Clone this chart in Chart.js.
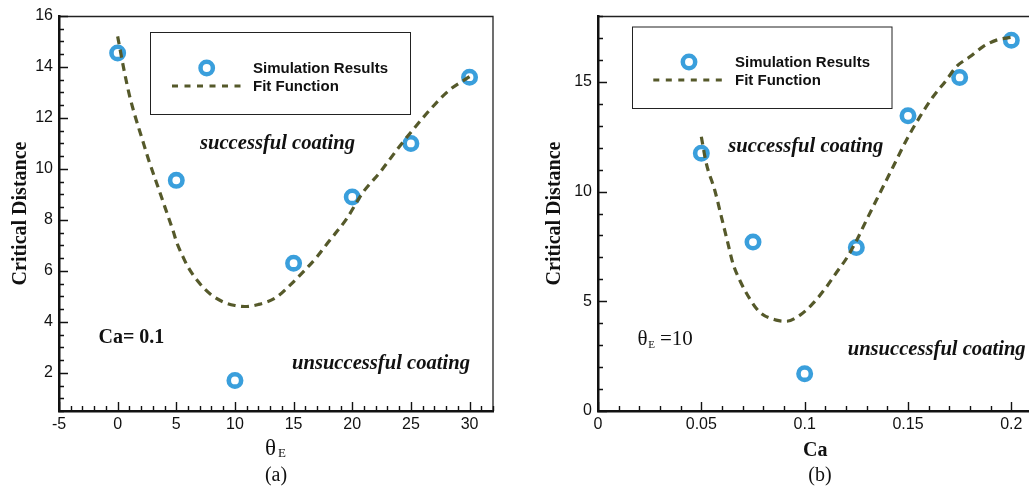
<!DOCTYPE html>
<html><head><meta charset="utf-8">
<script src="https://cdn.jsdelivr.net/npm/chart.js@4/dist/chart.umd.min.js"></script>
<style>
html,body{margin:0;padding:0;background:#fff;overflow:hidden;width:1029px;height:487px;position:relative;}
#wa{position:absolute;left:0;top:0;width:515px;height:487px;}
#wb{position:absolute;left:520px;top:0;width:540px;height:487px;}
canvas{display:block;}
</style></head><body>
<div id="wa"><canvas id="ca" width="515" height="487" style="width:515px;height:487px"></canvas></div>
<div id="wb"><canvas id="cb" width="540" height="487" style="width:540px;height:487px"></canvas></div>
<script>
// ---------- Data: panel (a) ----------
const thetaE = [0, 5, 10, 15, 20, 25, 30];
const critDistA = [14.55, 9.55, 1.7, 6.3, 8.9, 11.0, 13.6];
const fitThetaA = [0, 0.6, 1.0, 1.47, 2.04, 2.61, 3.32, 4.03, 4.74, 5.03, 5.5, 6.0, 7.0, 8.0, 9.0, 10.0, 10.85, 12.0, 13.5, 14.68, 15.8, 16.96, 17.95, 19.5, 20.9, 22.35, 24.06, 25.2, 26.9, 28.3, 30];
const fitCritA  = [15.2, 13.75, 12.9, 12.1, 11.25, 10.4, 9.45, 8.5, 7.55, 7.12, 6.62, 6.15, 5.5, 5.05, 4.78, 4.64, 4.6, 4.68, 4.95, 5.43, 5.95, 6.53, 7.12, 8.03, 9.07, 9.86, 10.9, 11.55, 12.46, 13.1, 13.62];
const xTicksA = [-5, 0, 5, 10, 15, 20, 25, 30];
const xTickLabelsA = ['-5', '0', '5', '10', '15', '20', '25', '30'];
const yTicksA = [2, 4, 6, 8, 10, 12, 14, 16];
const yTickLabelsA = ['2', '4', '6', '8', '10', '12', '14', '16'];

// ---------- Data: panel (b) ----------
const caValues = [0.05, 0.075, 0.1, 0.125, 0.15, 0.175, 0.2];
const critDistB = [11.75, 7.7, 1.7, 7.45, 13.45, 15.2, 16.9];
const fitCaB   = [0.05, 0.0524, 0.0565, 0.0597, 0.0629, 0.0653, 0.0686, 0.0734, 0.0782, 0.0863, 0.0912, 0.0976, 0.104, 0.1105, 0.1153, 0.1202, 0.125, 0.1299, 0.1363, 0.1428, 0.1492, 0.1557, 0.1621, 0.1686, 0.1734, 0.1799, 0.1863, 0.1928, 0.2];
const fitCritB = [12.5, 11.28, 10.06, 8.85, 7.63, 6.72, 5.96, 5.12, 4.51, 4.14, 4.09, 4.36, 4.9, 5.65, 6.3, 6.95, 7.75, 8.7, 9.91, 11.13, 12.34, 13.4, 14.32, 15.08, 15.69, 16.14, 16.6, 16.9, 17.03];
const xTicksB = [0, 0.05, 0.1, 0.15, 0.2];
const xTickLabelsB = ['0', '0.05', '0.1', '0.15', '0.2'];
const yTicksB = [0, 5, 10, 15];
const yTickLabelsB = ['0', '5', '10', '15'];

const legendLabels = ['Simulation Results', 'Fit Function'];

// ---------- Styles ----------
const BLUE = '#3a9fdc';
const OLIVE = '#55592a';
const INK = '#111';
const SANS = '"Liberation Sans", Arial, sans-serif';
const SERIF = '"Liberation Serif", "Times New Roman", serif';

function pts(xs, ys) { return xs.map((x, i) => ({ x: x, y: ys[i] })); }

function makeChart(canvasId, cfg) {
  const decor = {
    id: 'decor',
    afterDraw(chart) {
      const ctx = chart.ctx;
      const ca = chart.chartArea;
      const xs = chart.scales.x, ys = chart.scales.y;
      const off = cfg.offsetX;
      ctx.save();
      // frame (top / right)
      ctx.strokeStyle = '#222';
      ctx.lineWidth = 1.3;
      ctx.beginPath();
      ctx.moveTo(ca.left, ca.top + 0.5);
      ctx.lineTo(cfg.frameRight ? ca.right : chart.width, ca.top + 0.5);
      if (cfg.frameRight) ctx.lineTo(ca.right, ca.bottom);
      ctx.stroke();
      // inward tick marks
      ctx.strokeStyle = INK;
      ctx.lineWidth = 1.4;
      ctx.beginPath();
      const eps = 1e-9;
      for (let k = 0; ; k++) {
        const v = cfg.xMinorStart + k * cfg.xMinor;
        if (v > xs.max + eps) break;
        const major = cfg.xTicks.some(t => Math.abs(t - v) < 1e-6);
        const px = Math.round(xs.getPixelForValue(v)) + 0.5;
        ctx.moveTo(px, ca.bottom);
        ctx.lineTo(px, ca.bottom - (major ? 9 : 5));
      }
      for (let k = 0; ; k++) {
        const v = cfg.yMinorStart + k * cfg.yMinor;
        if (v > ys.max + eps) break;
        const major = cfg.yTicks.some(t => Math.abs(t - v) < 1e-6);
        const py = Math.round(ys.getPixelForValue(v)) + 0.5;
        ctx.moveTo(ca.left, py);
        ctx.lineTo(ca.left + (major ? 9 : 5), py);
      }
      ctx.stroke();

      // legend box
      const L = cfg.legend;
      ctx.lineWidth = 1;
      ctx.strokeStyle = '#222';
      ctx.strokeRect(L.x0 - off + 0.5, L.y0 + 0.5, L.x1 - L.x0, L.y1 - L.y0);
      ctx.beginPath();
      ctx.strokeStyle = BLUE;
      ctx.lineWidth = 4.5;
      ctx.arc(L.mx - off, L.my, 6.2, 0, Math.PI * 2);
      ctx.stroke();
      ctx.beginPath();
      ctx.strokeStyle = OLIVE;
      ctx.lineWidth = 3;
      ctx.setLineDash([6, 6.5]);
      ctx.moveTo(L.lx0 - off, L.ly);
      ctx.lineTo(L.lx1 - off, L.ly);
      ctx.stroke();
      ctx.setLineDash([]);
      ctx.fillStyle = INK;
      ctx.font = 'bold 15px ' + SANS;
      ctx.textAlign = 'left';
      ctx.textBaseline = 'middle';
      ctx.fillText(legendLabels[0], L.tx - off, L.my + 1);
      ctx.fillText(legendLabels[1], L.tx - off, L.ly + 1);

      // annotations
      ctx.textBaseline = 'alphabetic';
      for (const t of cfg.texts) {
        ctx.font = t.font;
        ctx.textAlign = t.align || 'left';
        ctx.fillText(t.text, t.x - off, t.y);
      }
      // y-axis title (rotated)
      ctx.save();
      ctx.translate(cfg.yTitleX - off, (ca.top + ca.bottom) / 2);
      ctx.rotate(-Math.PI / 2);
      ctx.font = 'bold 20px ' + SERIF;
      ctx.textAlign = 'center';
      ctx.textBaseline = 'alphabetic';
      ctx.fillText('Critical Distance', 0, 0);
      ctx.restore();
      ctx.restore();
    }
  };

  return new Chart(document.getElementById(canvasId), {
    type: 'scatter',
    data: {
      datasets: [
        {
          label: legendLabels[1],
          data: cfg.fit,
          showLine: true,
          borderColor: OLIVE,
          borderWidth: 3.2,
          borderDash: [8, 5.5],
          pointRadius: 0,
          cubicInterpolationMode: 'monotone',
          order: 0
        },
        {
          label: legendLabels[0],
          data: cfg.sim,
          showLine: false,
          pointRadius: 6.2,
          pointBorderWidth: 4.6,
          pointBorderColor: BLUE,
          pointBackgroundColor: 'rgba(0,0,0,0)',
          order: 1
        }
      ]
    },
    options: {
      responsive: false,
      animation: false,
      devicePixelRatio: 1,
      layout: { padding: { left: 0, top: 16, right: cfg.padRight, bottom: 0 } },
      plugins: { legend: { display: false }, tooltip: { enabled: false } },
      scales: {
        x: {
          type: 'linear', position: 'bottom', min: cfg.xMin, max: cfg.xMax,
          afterBuildTicks: s => { s.ticks = cfg.xTicks.map(v => ({ value: v })); },
          afterFit: s => { s.height = 76; s.paddingLeft = 0; s.paddingRight = 0; },
          grid: { display: false, drawTicks: false },
          border: { display: true, width: 2.5, color: INK },
          ticks: {
            autoSkip: false, maxRotation: 0, minRotation: 0, padding: 4, color: INK,
            font: { family: SANS, size: 16 },
            callback: (v, i) => cfg.xLabels[i]
          }
        },
        y: {
          type: 'linear', position: 'left', min: cfg.yMin, max: cfg.yMax,
          afterBuildTicks: s => { s.ticks = cfg.yTicks.map(v => ({ value: v })); },
          afterFit: s => { s.width = cfg.yAxisWidth; s.paddingTop = 0; s.paddingBottom = 0; },
          grid: { display: false, drawTicks: false },
          border: { display: true, width: 2.5, color: INK },
          ticks: {
            autoSkip: false, padding: 6, color: INK,
            font: { family: SANS, size: 16 },
            callback: (v, i) => cfg.yLabels[i]
          }
        }
      }
    },
    plugins: [decor]
  });
}

makeChart('ca', {
  offsetX: 0,
  padRight: 22, yAxisWidth: 59,
  xMin: -5, xMax: 32, yMin: 0.5, yMax: 16,
  xTicks: xTicksA, xLabels: xTickLabelsA, yTicks: yTicksA, yLabels: yTickLabelsA,
  xMinorStart: -5, xMinor: 1, yMinorStart: 0.5, yMinor: 0.5,
  frameRight: true,
  sim: pts(thetaE, critDistA), fit: pts(fitThetaA, fitCritA),
  yTitleX: 25.5,
  legend: { x0: 150, y0: 32, x1: 410, y1: 114, mx: 206.7, my: 68, lx0: 172, lx1: 242, ly: 86, tx: 253 },
  texts: [
    { text: 'successful coating', x: 200, y: 149, font: 'italic bold 20.6px ' + SERIF },
    { text: 'unsuccessful coating', x: 292, y: 369, font: 'italic bold 20.6px ' + SERIF },
    { text: 'Ca= 0.1', x: 98.5, y: 342.5, font: 'bold 20px ' + SERIF },
    { text: 'θ', x: 265, y: 455, font: '23px ' + SERIF },
    { text: 'E', x: 278, y: 456.5, font: '13px ' + SERIF },
    { text: '(a)', x: 276, y: 481, font: '20px ' + SERIF, align: 'center' }
  ]
});

makeChart('cb', {
  offsetX: 520,
  padRight: 28, yAxisWidth: 78,
  xMin: 0, xMax: 0.21, yMin: 0, yMax: 18,
  xTicks: xTicksB, xLabels: xTickLabelsB, yTicks: yTicksB, yLabels: yTickLabelsB,
  xMinorStart: 0, xMinor: 0.01, yMinorStart: 0, yMinor: 1,
  frameRight: false,
  sim: pts(caValues, critDistB), fit: pts(fitCaB, fitCritB),
  yTitleX: 559.5,
  legend: { x0: 632, y0: 26.5, x1: 891.5, y1: 108, mx: 689, my: 62, lx0: 653.3, lx1: 723.3, ly: 80, tx: 735 },
  texts: [
    { text: 'successful coating', x: 728.3, y: 151.5, font: 'italic bold 20.6px ' + SERIF },
    { text: 'unsuccessful coating', x: 847.7, y: 355, font: 'italic bold 20.6px ' + SERIF },
    { text: 'θ', x: 637.5, y: 345, font: '21px ' + SERIF },
    { text: 'E', x: 648.3, y: 348.3, font: '11px ' + SERIF },
    { text: '=10', x: 660, y: 345, font: '21px ' + SERIF },
    { text: 'Ca', x: 815.3, y: 456, font: 'bold 20px ' + SERIF, align: 'center' },
    { text: '(b)', x: 820, y: 481, font: '20px ' + SERIF, align: 'center' }
  ]
});
</script>
</body></html>
